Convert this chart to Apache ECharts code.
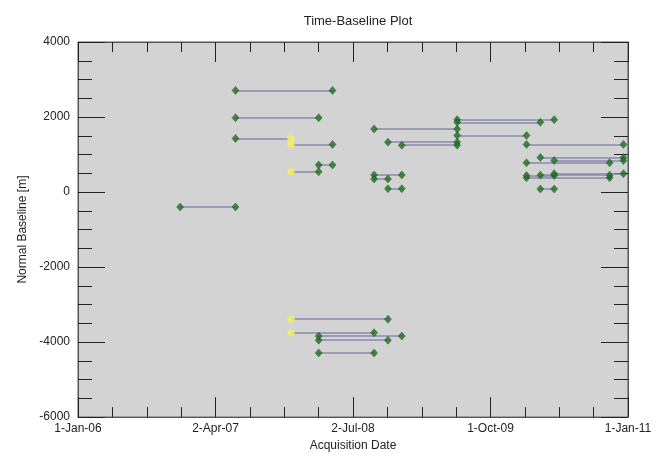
<!DOCTYPE html>
<html>
<head>
<meta charset="utf-8">
<script src="https://cdn.jsdelivr.net/npm/echarts@6/dist/echarts.min.js"></script>
<style>
  html, body { margin: 0; padding: 0; background: #fff; }
  #chart { width: 667px; height: 457px; }
</style>
</head>
<body>
<div id="chart"></div>
<script>
// interferometric pairs: master date, slave date, normal baseline [m]
var masterDates = [
  '2006-12-06', '2007-06-08', '2007-06-08', '2007-06-08', '2007-12-09',
  '2008-03-10', '2007-12-09', '2007-12-09', '2007-12-09', '2008-03-10',
  '2008-03-10', '2008-03-10', '2008-09-10', '2008-10-26', '2008-12-11',
  '2008-09-10', '2008-09-10', '2008-10-26', '2009-06-13', '2009-06-13',
  '2009-06-13', '2010-01-29', '2010-03-16', '2010-05-01', '2010-01-29',
  '2010-01-29', '2010-01-29', '2010-03-16', '2010-05-01', '2010-03-16'
];
var slaveDates = [
  '2007-06-08', '2008-04-25', '2008-03-10', '2007-12-09', '2008-04-25',
  '2008-04-25', '2008-03-10', '2008-10-26', '2008-09-10', '2008-12-11',
  '2008-10-26', '2008-09-10', '2009-06-13', '2009-06-13', '2009-06-13',
  '2008-12-11', '2008-10-26', '2008-12-11', '2010-05-01', '2010-03-16',
  '2010-01-29', '2010-12-17', '2010-12-17', '2010-12-17', '2010-11-01',
  '2010-11-01', '2010-05-01', '2010-11-01', '2010-12-17', '2010-05-01'
];
var baselines = [
  -400, 2710, 1980, 1430, 1270,
  720, 540, -3390, -3750, -3840,
  -3950, -4290, 1680, 1330, 1250,
  455, 350, 90, 1930, 1860,
  1510, 1270, 920, 840, 780,
  380, 440, 450, 490, 80
];
var highlightDate = '2007-12-09';   // drawn in yellow
var startDate = '2006-01-01';
var endDate = '2011-01-01';
var tickLabels = ['1-Jan-06', '2-Apr-07', '2-Jul-08', '1-Oct-09', '1-Jan-11'];

function dayOf(s) {
  var p = s.split('-');
  var q = startDate.split('-');
  var t0 = Date.UTC(+q[0], +q[1] - 1, +q[2]);
  return (Date.UTC(+p[0], +p[1] - 1, +p[2]) - t0) / 86400000;
}

var xMax = dayOf(endDate);
var xStep = xMax / (tickLabels.length - 1);

var segs = [];
var greenPts = [];
var yellowPts = [];
for (var i = 0; i < baselines.length; i++) {
  var a = [dayOf(masterDates[i]), baselines[i]];
  var b = [dayOf(slaveDates[i]), baselines[i]];
  segs.push({ coords: [a, b] });
  (masterDates[i] === highlightDate ? yellowPts : greenPts).push(a);
  (slaveDates[i] === highlightDate ? yellowPts : greenPts).push(b);
}

var font = 'Liberation Sans, Arial, sans-serif';
var axisCol = '#555';

function xAxisDef(pos, labels) {
  return {
    type: 'value', position: pos, min: 0, max: xMax, interval: xStep,
    name: labels ? 'Acquisition Date' : '', nameLocation: 'middle', nameGap: 22,
    nameTextStyle: { color: '#222', fontSize: 12, fontFamily: font },
    axisLine: { show: true, onZero: false, lineStyle: { color: axisCol, width: 1 } },
    axisTick: { show: true, inside: true, length: 20, lineStyle: { color: '#222' } },
    minorTick: { show: true, splitNumber: 4, length: 10, lineStyle: { color: '#222' } },
    splitLine: { show: false },
    axisLabel: {
      show: labels, color: '#222', fontSize: 12, fontFamily: font, margin: 6,
      formatter: function (v) { return tickLabels[Math.round(v / xStep)]; }
    }
  };
}
function yAxisDef(pos, labels) {
  return {
    type: 'value', position: pos, min: -6000, max: 4000, interval: 2000,
    name: labels ? 'Normal Baseline [m]' : '', nameLocation: 'middle', nameGap: 48,
    nameTextStyle: { color: '#222', fontSize: 12, fontFamily: font },
    axisLine: { show: true, onZero: false, lineStyle: { color: axisCol, width: 1 } },
    axisTick: { show: true, inside: true, length: 27, lineStyle: { color: '#222' } },
    minorTick: { show: true, splitNumber: 4, length: 14, lineStyle: { color: '#222' } },
    splitLine: { show: false },
    axisLabel: {
      show: labels, color: '#222', fontSize: 12, fontFamily: font, margin: 8,
      formatter: function (v) { return String(v); }
    }
  };
}

var chart = echarts.init(document.getElementById('chart'));
chart.setOption({
  animation: false,
  backgroundColor: '#fff',
  title: {
    text: 'Time-Baseline Plot', left: 353, top: 10, textAlign: 'center',
    textStyle: { color: '#222', fontSize: 13, fontWeight: 'normal', fontFamily: font }
  },
  grid: {
    left: 78, right: 39, top: 42, bottom: 35, show: true,
    backgroundColor: '#d3d3d3', borderColor: axisCol, borderWidth: 1
  },
  xAxis: [xAxisDef('bottom', true), xAxisDef('top', false)],
  yAxis: [yAxisDef('left', true), yAxisDef('right', false)],
  series: [
    {
      type: 'lines', coordinateSystem: 'cartesian2d', data: segs,
      lineStyle: { color: '#8a8aae', width: 1.5, opacity: 1 }, z: 2
    },
    {
      type: 'scatter', data: greenPts, symbol: 'diamond', symbolSize: [7, 8],
      itemStyle: { color: '#1f6e22', borderColor: '#14501a', borderWidth: 0.5 }, z: 3
    },
    {
      type: 'scatter', data: yellowPts, symbol: 'circle', symbolSize: 7,
      itemStyle: { color: '#f4f45c', borderColor: '#e8e86a', borderWidth: 0.5 }, z: 4
    }
  ]
});
</script>
</body>
</html>
